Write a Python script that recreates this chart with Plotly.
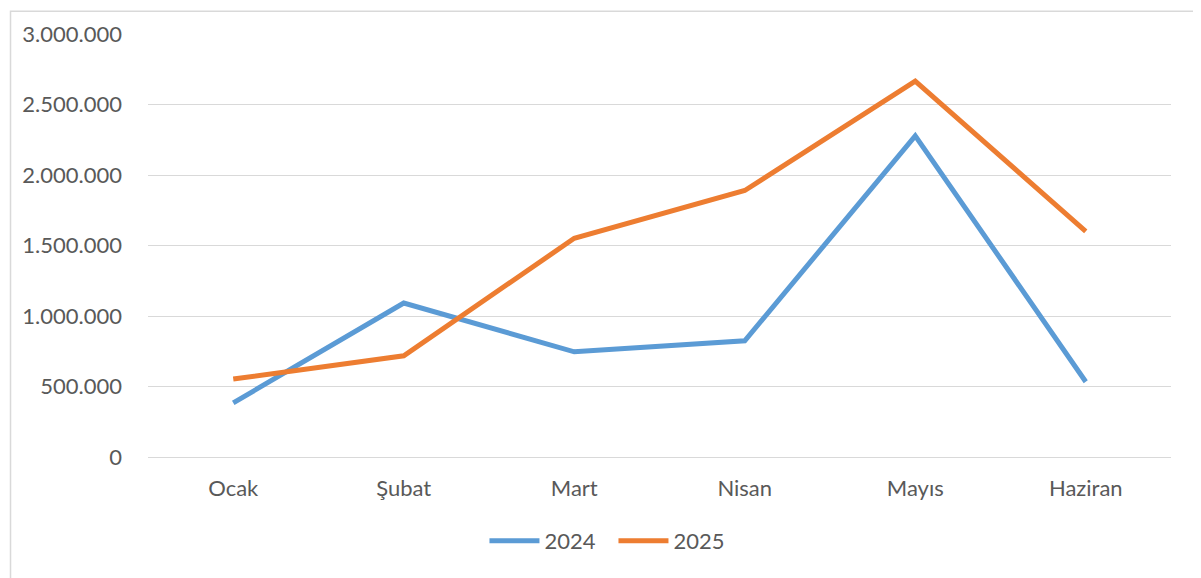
import plotly.graph_objects as go

months = ["Ocak", "Şubat", "Mart", "Nisan", "Mayıs", "Haziran"]
values_2024 = [384000, 1092000, 746000, 824000, 2278000, 534000]
values_2025 = [553000, 718000, 1551000, 1890000, 2666000, 1600000]
y_ticks = [0, 500000, 1000000, 1500000, 2000000, 2500000, 3000000]

fig = go.Figure()
fig.add_trace(go.Scatter(x=months, y=values_2024, mode="lines", name="2024",
                         line=dict(color="#5B9BD5", width=5)))
fig.add_trace(go.Scatter(x=months, y=values_2025, mode="lines", name="2025",
                         line=dict(color="#ED7D31", width=5)))

font = dict(family="Lato, 'Open Sans', sans-serif", size=22, color="#595959")
fig.update_layout(
    width=1201, height=578,
    margin=dict(l=140, r=38, t=24, b=129),
    paper_bgcolor="white", plot_bgcolor="white",
    separators=",.",
    font=font,
    showlegend=True,
    legend=dict(orientation="h", x=0.455, xanchor="center", y=-0.1985, yanchor="middle",
                font=font, itemwidth=50, entrywidth=64),
    xaxis=dict(type="category", range=[-0.5, 5.5], showgrid=False, zeroline=False,
               showline=False, ticks="", ticklabelstandoff=16),
    yaxis=dict(range=[0, 3000000], tickvals=y_ticks, tickformat=",d",
               showgrid=True, gridcolor="#D9D9D9", gridwidth=1.3,
               zeroline=True, zerolinecolor="#D9D9D9", zerolinewidth=1.3,
               showline=False, ticks="", ticklabelstandoff=25),
)
fig.add_shape(type="rect", xref="paper", yref="paper",
              x0=-0.1344, x1=1.0264, y0=-0.45, y1=1.054,
              line=dict(color="#D9D9D9", width=1.5), layer="below")
fig.write_html("out.html")
